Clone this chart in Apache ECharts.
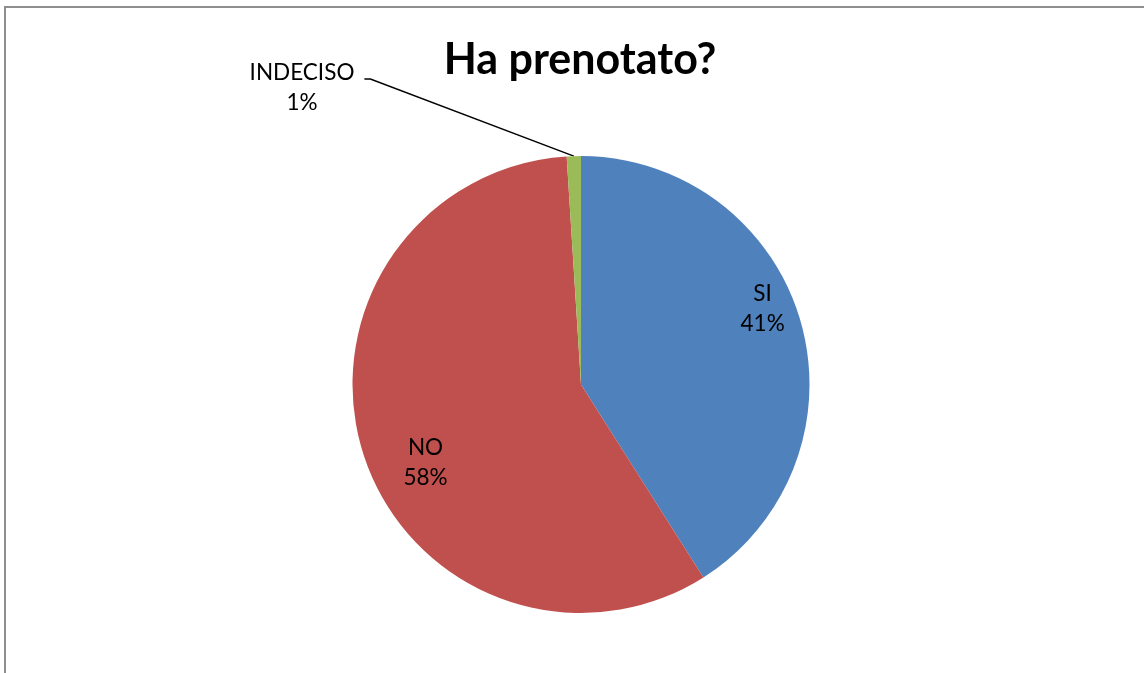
<!DOCTYPE html>
<html>
<head>
<meta charset="utf-8">
<script src="https://cdn.jsdelivr.net/npm/echarts@6/dist/echarts.min.js"></script>
<style>
  html, body { margin: 0; padding: 0; background: #fff; }
  #chart { position: absolute; left: 0; top: 0; width: 1144px; height: 673px; }
  #frame { position: absolute; left: 4px; top: 6px; width: 1200px; height: 700px;
           border-left: 2px solid #8e8e8e; border-top: 2px solid #8e8e8e; pointer-events: none; }
</style>
</head>
<body>
<div id="chart"></div>
<div id="frame"></div>
<script>
const title = 'Ha prenotato?';
const categories = ['SI', 'NO', 'INDECISO'];
const values = [41, 58, 1];
const colors = ['#4F81BD', '#C0504D', '#9BBB59'];

const labelOffsets = [[69, -43], [-44, 42], [0, 0]];

const chart = echarts.init(document.getElementById('chart'));
const data = categories.map((name, i) => ({
  name: name,
  value: values[i],
  itemStyle: { color: colors[i] },
  label: i < 2 ? { position: 'inside', offset: labelOffsets[i] } : { position: 'outside' },
  labelLine: { show: i === 2 }
}));

chart.setOption({
  animation: false,
  title: {
    text: title,
    left: 575,
    top: 34,
    textAlign: 'center',
    textStyle: { fontFamily: 'Lato', fontWeight: 'bold', fontSize: 43, color: '#000' }
  },
  series: [{
    type: 'pie',
    center: [581, 384.5],
    radius: 228.5,
    startAngle: 90,
    clockwise: true,
    percentPrecision: 0,
    silent: true,
    itemStyle: { borderWidth: 0 },
    label: {
      formatter: '{b}\n{d}%',
      fontFamily: 'Lato',
      fontSize: 22.5,
      lineHeight: 30,
      color: '#000',
      align: 'center'
    },
    labelLine: { lineStyle: { color: '#000', width: 1.5 }, length: 20, length2: 10 },
    labelLayout: function (params) {
      if (params.dataIndex !== 2) return {};
      const x = 302, y = 88;
      const w = params.labelRect.width;
      const start = params.labelLinePoints ? params.labelLinePoints[0] : [573, 156];
      const yLine = y - 9;
      return {
        x: x, y: y, align: 'center', verticalAlign: 'middle',
        labelLinePoints: [start, [x + w / 2 + 16, yLine], [x + w / 2 + 10, yLine]]
      };
    },
    data: data
  }]
});
</script>
</body>
</html>
